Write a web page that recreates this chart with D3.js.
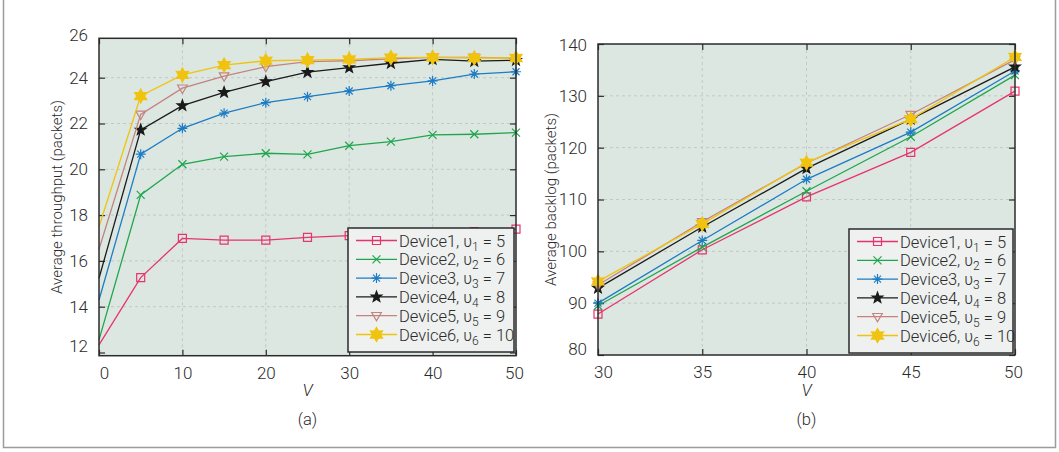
<!DOCTYPE html>
<html>
<head>
<meta charset="utf-8">
<script src="https://cdn.jsdelivr.net/npm/d3@7"></script>
<style>
  body { margin: 0; background: #fff; }
  svg text { font-family: Roboto, "Liberation Sans", sans-serif; font-weight: 300; fill: #2b2b2b; }
</style>
</head>
<body>
<svg id="fig" width="1059" height="452"></svg>
<script>
// ---- data ----
const deviceNames = ["Device1", "Device2", "Device3", "Device4", "Device5", "Device6"];
const upsilonValues = [5, 6, 7, 8, 9, 10];

// (a) average throughput vs V
const vThroughput = [0, 5, 10, 15, 20, 25, 30, 35, 40, 45, 50];
const thrDevice1 = [12.33, 15.27, 16.98, 16.91, 16.91, 17.03, 17.1, 17.15, 17.2, 17.28, 17.39];
const thrDevice2 = [12.55, 18.88, 20.22, 20.55, 20.7, 20.65, 21.03, 21.21, 21.5, 21.53, 21.6];
const thrDevice3 = [14.29, 20.66, 21.79, 22.45, 22.91, 23.17, 23.42, 23.65, 23.86, 24.16, 24.26];
const thrDevice4 = [15.24, 21.72, 22.78, 23.36, 23.83, 24.24, 24.44, 24.63, 24.8, 24.72, 24.76];
const thrDevice5 = [16.51, 22.4, 23.54, 24.07, 24.48, 24.7, 24.74, 24.82, 24.89, 24.89, 24.86];
const thrDevice6 = [17.49, 23.2, 24.12, 24.55, 24.74, 24.77, 24.8, 24.88, 24.89, 24.86, 24.86];
const thrTicksX = [0, 10, 20, 30, 40, 50];
const thrTicksY = [12, 14, 16, 18, 20, 22, 24, 26];

// (b) average backlog vs V
const vBacklog = [30, 35, 40, 45, 50];
const blgDevice1 = [87.9, 100.3, 110.5, 119.1, 130.9];
const blgDevice2 = [89.5, 100.8, 111.6, 122.1, 134.0];
const blgDevice3 = [90.0, 102.1, 113.9, 123.0, 134.8];
const blgDevice4 = [92.9, 104.7, 116.0, 125.5, 135.6];
const blgDevice5 = [93.5, 105.7, 117.0, 126.4, 137.0];
const blgDevice6 = [94.2, 105.3, 117.1, 125.5, 137.5];
const blgTicksX = [30, 35, 40, 45, 50];
const blgTicksY = [80, 90, 100, 110, 120, 130, 140];

// ---- styles ----
const colors = ["#e8336f", "#1fa64d", "#1c7cc4", "#1a1a1a", "#c4837f", "#f0c30f"];
const plotBg = "#dde7e2";

// marker shapes, MATLAB-like (s, x, *, p, v, h)
function starPath(n, R, r) {
  let p = [];
  for (let i = 0; i < 2 * n; i++) {
    const a = -Math.PI / 2 + i * Math.PI / n;
    const rad = i % 2 === 0 ? R : r;
    p.push([rad * Math.cos(a), rad * Math.sin(a)]);
  }
  return "M" + p.map(d => d[0].toFixed(2) + "," + d[1].toFixed(2)).join("L") + "Z";
}
const markers = [
  { d: "M-4,-4H4V4H-4Z", fill: false },
  { d: "M-4,-4L4,4M-4,4L4,-4", fill: false },
  { d: "M0,-5V5M-5,0H5M-3.5,-3.5L3.5,3.5M-3.5,3.5L3.5,-3.5", fill: false },
  { d: starPath(5, 5.6, 2.3), fill: true },
  { d: "M-4.8,-3.2L4.8,-3.2L0,5.2Z", fill: false },
  { d: starPath(6, 7, 3.9), fill: true }
];

const svg = d3.select("#fig");

// outer frame
svg.append("path")
  .attr("d", "M3.5,0V447.5H1055.5V0")
  .attr("fill", "none")
  .attr("stroke", "#9c9c9c")
  .attr("stroke-width", 1.5);

function drawPanel(cfg) {
  const x = d3.scaleLinear().domain(cfg.xDomain).range(cfg.xRange);
  const y = d3.scaleLinear().domain(cfg.yDomain).range(cfg.yRange);
  const [x0, x1] = cfg.xRange;
  const [y1, y0] = cfg.yRange;
  const g = svg.append("g");

  g.append("rect")
    .attr("x", x0).attr("y", y0)
    .attr("width", x1 - x0).attr("height", y1 - y0)
    .attr("fill", plotBg);

  const inY = v => v >= cfg.yDomain[0] && v <= cfg.yDomain[1];

  // dashed grid
  g.selectAll(".gx").data(cfg.xTicks.slice(1, -1)).join("line")
    .attr("x1", d => x(d)).attr("x2", d => x(d))
    .attr("y1", y0).attr("y2", y1)
    .attr("stroke", "#c2c8c5").attr("stroke-dasharray", "3,3");
  g.selectAll(".gy").data(cfg.yTicks.filter(v => inY(v) && v > cfg.yDomain[0] + 0.3 && v < cfg.yDomain[1] - 0.3)).join("line")
    .attr("x1", x0).attr("x2", x1)
    .attr("y1", d => y(d)).attr("y2", d => y(d))
    .attr("stroke", "#c2c8c5").attr("stroke-dasharray", "3,3");

  // axes, ticks pointing inward on all four sides
  const ax = (gen, tr) => g.append("g").attr("transform", tr).call(gen)
    .call(s => s.select(".domain").remove());
  const bottom = ax(d3.axisBottom(x).tickValues(cfg.xTicks).tickSizeInner(-6).tickPadding(11), `translate(0,${y1})`);
  const left = ax(d3.axisLeft(y).tickValues(cfg.yTicks).tickSizeInner(-6).tickPadding(11), `translate(${x0},0)`);
  const top = ax(d3.axisTop(x).tickValues(cfg.xTicks).tickSizeInner(-6).tickFormat(""), `translate(0,${y0})`);
  const right = ax(d3.axisRight(y).tickValues(cfg.yTicks.filter(inY)).tickSizeInner(-6).tickFormat(""), `translate(${x1},0)`);
  [bottom, left, top, right].forEach(a => a.selectAll("line").attr("stroke", "#2b2b2b").attr("stroke-width", 1.2));
  left.selectAll(".tick").filter(d => !inY(d)).select("line").remove();
  [bottom, left].forEach(a => a.selectAll("text")
    .style("font-size", "17px").attr("fill", "#2b2b2b")
    .attr("font-family", null));
  bottom.selectAll(".tick text").filter((d, i) => i === 0).attr("dx", 5);
  bottom.selectAll(".tick text").filter((d, i, n) => i === n.length - 1).attr("dx", -2);
  left.selectAll(".tick text").filter((d, i) => i === 0).attr("dy", "-0.05em");
  left.selectAll(".tick text").filter((d, i, n) => i === n.length - 1).attr("dy", cfg.topLabelDy);

  // series
  const line = d3.line().x(d => x(d[0])).y(d => y(d[1]));
  cfg.series.forEach((vals, k) => {
    const pts = cfg.xs.map((v, i) => [v, vals[i]]);
    g.append("path").datum(pts)
      .attr("d", line)
      .attr("fill", "none")
      .attr("stroke", colors[k])
      .attr("stroke-width", 1.3);
    g.selectAll(null).data(pts.filter(p => p[0] > cfg.markerFrom)).join("path")
      .attr("transform", d => `translate(${x(d[0])},${y(d[1])})`)
      .attr("d", markers[k].d)
      .attr("fill", markers[k].fill ? colors[k] : "none")
      .attr("stroke", colors[k])
      .attr("stroke-width", 1.2);
  });

  // plot box
  g.append("rect")
    .attr("x", x0).attr("y", y0)
    .attr("width", x1 - x0).attr("height", y1 - y0)
    .attr("fill", "none").attr("stroke", "#2b2b2b").attr("stroke-width", 1.5);

  // legend
  const lg = cfg.legend;
  const leg = g.append("g");
  leg.append("rect")
    .attr("x", lg.x).attr("y", lg.y).attr("width", lg.w).attr("height", lg.h)
    .attr("fill", "#eef1ef").attr("stroke", "#2b2b2b").attr("stroke-width", 1.5);
  deviceNames.forEach((name, k) => {
    const ry = lg.y + 12.5 + k * 18.8;
    leg.append("line")
      .attr("x1", lg.x + 8).attr("x2", lg.x + 49)
      .attr("y1", ry).attr("y2", ry)
      .attr("stroke", colors[k]).attr("stroke-width", 1.3);
    leg.append("path")
      .attr("transform", `translate(${lg.x + 28.5},${ry})`)
      .attr("d", markers[k].d)
      .attr("fill", markers[k].fill ? colors[k] : "none")
      .attr("stroke", colors[k]).attr("stroke-width", 1.2);
    const t = leg.append("text")
      .attr("x", lg.x + 51).attr("y", ry + 6)
      .style("font-size", "16.5px");
    t.append("tspan").text(name + ", \u03C5");
    t.append("tspan").attr("dy", 4).style("font-size", "12px").text(k + 1);
    t.append("tspan").attr("dy", -4).text(" = " + upsilonValues[k]);
  });

  // axis titles
  const cx = (x0 + x1) / 2;
  g.append("text")
    .attr("transform", `translate(${cfg.yTitleX},${(y0 + y1) / 2}) rotate(-90)`)
    .attr("text-anchor", "middle").attr("dominant-baseline", "central")
    .style("font-size", "15px")
    .text(cfg.yTitle);
  g.append("text")
    .attr("x", cx).attr("y", 396)
    .attr("text-anchor", "middle")
    .style("font-size", "17px").style("font-style", "italic")
    .text("V");
  g.append("text")
    .attr("x", cx).attr("y", 425)
    .attr("text-anchor", "middle")
    .style("font-size", "16.5px")
    .text(cfg.caption);
}

drawPanel({
  xs: vThroughput,
  series: [thrDevice1, thrDevice2, thrDevice3, thrDevice4, thrDevice5, thrDevice6],
  xDomain: [0, 50], xRange: [99, 516],
  yDomain: [11.86, 25.72], yRange: [355.7, 38.3],
  xTicks: thrTicksX, yTicks: thrTicksY,
  topLabelDy: "0.5em",
  markerFrom: 0,
  legend: { x: 348, y: 228, w: 166, h: 124 },
  yTitle: "Average throughput (packets)", yTitleX: 57,
  caption: "(a)"
});

drawPanel({
  xs: vBacklog,
  series: [blgDevice1, blgDevice2, blgDevice3, blgDevice4, blgDevice5, blgDevice6],
  xDomain: [30, 50], xRange: [598, 1015],
  yDomain: [80, 140], yRange: [355, 44],
  xTicks: blgTicksX, yTicks: blgTicksY,
  topLabelDy: "0.4em",
  markerFrom: -Infinity,
  legend: { x: 849, y: 229, w: 164, h: 124 },
  yTitle: "Average backlog (packets)", yTitleX: 551,
  caption: "(b)"
});
</script>
</body>
</html>
